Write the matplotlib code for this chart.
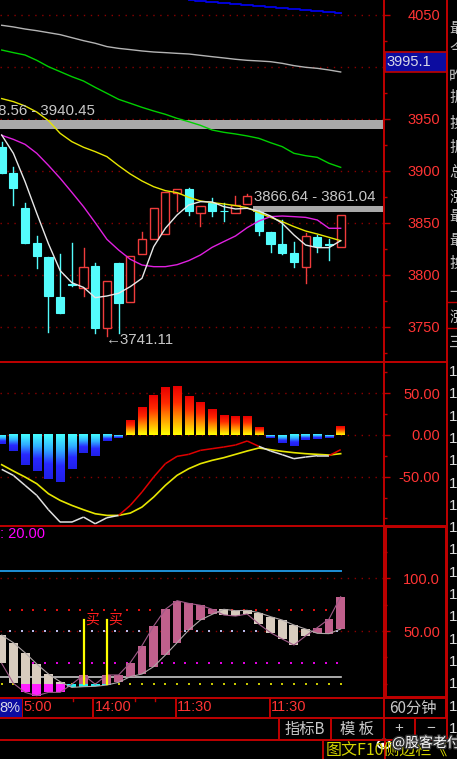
import numpy as np
import matplotlib
matplotlib.use('Agg')
import matplotlib.pyplot as plt
from matplotlib.patches import Rectangle, Ellipse
from matplotlib.collections import LineCollection
from matplotlib.colors import LinearSegmentedColormap
import matplotlib.patheffects as pe

plt.rcParams['font.family'] = ['Liberation Sans', 'DejaVu Sans']
CJK = ['Noto Sans CJK SC', 'DejaVu Sans']

# ---------------- data (60 min bars) ----------------
opens  = [3923.4, 3897.8, 3864.1, 3831.0, 3817.6, 3779.2, 3791.5, 3787.2, 3809.0, 3749.4,
          3811.9, 3774.4, 3819.9, 3834.3, 3839.1, 3879.2, 3882.4, 3859.3, 3868.9, 3861.9,
          3859.3, 3868.0, 3860.3, 3841.7, 3829.5, 3821.5, 3807.4, 3836.9, 3829.6, 3826.6]
closes = [3897.8, 3883.3, 3830.4, 3818.3, 3779.8, 3763.1, 3790.5, 3808.0, 3748.7, 3794.2,
          3773.4, 3818.6, 3834.3, 3864.1, 3879.5, 3883.0, 3861.9, 3866.7, 3861.9, 3861.1,
          3867.3, 3876.3, 3842.3, 3829.5, 3820.8, 3812.8, 3837.5, 3827.9, 3828.6, 3857.7]
highs  = [3928.0, 3904.2, 3869.6, 3837.5, 3817.6, 3820.2, 3831.1, 3825.6, 3811.2, 3794.2,
          3811.9, 3818.6, 3841.7, 3864.1, 3879.5, 3883.0, 3884.0, 3866.7, 3873.7, 3868.9,
          3876.0, 3877.9, 3862.5, 3841.7, 3852.9, 3832.1, 3840.1, 3838.5, 3834.3, 3857.7]
lows   = [3897.8, 3867.3, 3830.4, 3806.4, 3745.5, 3763.1, 3789.4, 3779.8, 3743.9, 3741.11,
          3743.9, 3774.4, 3819.9, 3834.3, 3839.1, 3861.9, 3857.7, 3847.1, 3856.7, 3852.2,
          3859.3, 3868.0, 3838.5, 3821.8, 3820.2, 3808.0, 3792.6, 3821.8, 3814.4, 3826.6]

ma_white = [3934.6, 3917.0, 3889.7, 3859.3, 3830.0, 3804.2, 3792.6, 3788.1, 3778.2, 3779.8,
            3782.4, 3788.8, 3796.8, 3827.2, 3844.9, 3857.7, 3867.3, 3870.5, 3870.2, 3865.7,
            3863.5, 3864.1, 3861.5, 3856.7, 3849.7, 3838.5, 3828.8, 3826.3, 3826.3, 3833.0]
ma_magenta = [3934.3, 3930.4, 3925.6, 3917.0, 3905.4, 3893.0, 3879.5, 3865.7, 3850.3, 3834.3,
              3824.0, 3815.1, 3809.6, 3808.0, 3808.0, 3809.9, 3813.8, 3819.2, 3826.6, 3832.1,
              3837.5, 3845.5, 3851.9, 3856.1, 3856.7, 3856.1, 3855.4, 3852.9, 3844.9, 3844.9]
ma_yellow = [3969.6, 3966.7, 3962.5, 3956.7, 3948.4, 3936.2, 3928.2, 3922.8, 3918.6, 3913.8,
             3905.1, 3897.1, 3890.4, 3884.9, 3881.1, 3879.2, 3874.7, 3871.2, 3869.6, 3868.3,
             3866.7, 3864.7, 3859.9, 3855.4, 3851.3, 3846.5, 3842.3, 3839.4, 3836.2, 3833.0]
ma_green = [4016.3, 4013.8, 4011.5, 4006.4, 4000.3, 3995.5, 3990.7, 3986.5, 3980.4, 3974.7,
            3968.9, 3965.1, 3961.2, 3957.7, 3954.5, 3950.6, 3947.4, 3943.9, 3939.4, 3937.2,
            3935.6, 3933.7, 3931.4, 3927.2, 3923.4, 3917.0, 3914.7, 3913.1, 3907.4, 3903.5]
ma_grey = [4040.1, 4038.5, 4036.5, 4034.9, 4033.0, 4031.1, 4028.2, 4025.3, 4022.8, 4019.6,
           4017.9, 4016.7, 4015.4, 4014.4, 4013.8, 4013.1, 4012.5, 4011.2, 4009.9, 4008.7,
           4007.4, 4006.4, 4005.8, 4005.1, 4003.5, 4001.3, 3999.7, 3998.7, 3997.1, 3995.2]
ma_blue_start = 16
ma_blue = [4064.1, 4063.3, 4062.2, 4061.3, 4060.3, 4059.4, 4058.4, 4057.6, 4056.7, 4055.8,
           4055.0, 4054.2, 4053.3, 4052.2]

zone_hi = (3948.56, 3940.45)      # pressure zone, full width
zone_lo = (3866.64, 3861.04)      # starts at bar 21.5
zone_lo_start = 21.5
low_bar, low_val = 9, 3741.11
last_label = '3995.1'
price_ticks = [3750, 3800, 3850, 3900, 3950, 4000, 4050]
price_tick_labels = ['3750', '3800', '3850', '3900', '3950', '', '4050']  # 4000 hidden by box

macd_hist = [-10.4, -19.2, -36.4, -43.2, -52.8, -56.4, -41.2, -21.6, -25.6, -7.2,
             -3.2, 17.6, 32.4, 47.6, 56.8, 58.4, 46.4, 38.4, 30.8, 23.6,
             21.6, 21.6, 8.4, -3.2, -9.2, -13.6, -6.4, -4.8, -3.2, 10.4]
macd_dif = [-41.2, -48.4, -60.4, -72.4, -89.6, -104.4, -104.4, -98.4, -106.4, -99.2,
            -96.4, -84.4, -68.4, -50.4, -34.4, -25.6, -23.2, -18.4, -16.4, -14.4,
            -12.0, -7.2, -13.6, -19.2, -23.6, -28.4, -26.4, -24.8, -24.8, -17.6]
macd_dea = [-35.6, -43.2, -50.4, -58.4, -70.4, -78.4, -84.4, -89.6, -94.4, -96.4,
            -96.4, -93.6, -86.4, -74.4, -60.4, -48.4, -40.4, -34.4, -30.4, -27.2,
            -23.2, -19.2, -15.6, -17.6, -19.6, -21.2, -22.4, -23.2, -24.0, -22.4]

kd_k = [19.3, 0.35, -8.2, -11.4, -8.2, -8.2, -0.5, 8.3, -0.5, 8.3,
        8.3, 20.0, 36.1, 54.7, 70.6, 78.8, 76.2, 74.4, 70.6, 65.2,
        64.2, 66.1, 56.6, 48.4, 42.4, 36.7, 45.3, 53.2, 61.4, 82.6]
kd_d = [46.2, 38.9, 29.4, 18.7, 9.2, 1.9, -3.5, -2.8, -2.5, -1.2,
        1.3, 6.7, 9.2, 16.2, 27.2, 38.9, 50.9, 60.4, 65.8, 70.6,
        69.3, 69.6, 67.4, 63.6, 60.4, 55.7, 51.9, 47.8, 47.5, 51.9]
kd_upper, kd_lower = 107.0, 6.0
kd_dot_levels = [70, 50, 20, 0]
kd_param = ': 20.00'
buy_bars = [7, 9]
buy_top = 60.4

time_pos = [1.75, 7.85, 14.9, 22.95]
time_labels = ['5:00', '14:00', '11:30', '11:30']

# ---------------- layout ----------------
W, H = 457, 759
XL = (-0.145, 32.62)
RED_AX = '#c00000'
RED_TXT = '#ff3434'
GRID = '#8a0000'
CYAN = '#54fcfc'
CRED = '#f03c3c'

fig = plt.figure(figsize=(W / 100, H / 100), dpi=100, facecolor='black')


def make_panel(top, bottom, ylim, major, labels, minor):
    ax = fig.add_axes([0, 1 - bottom / H, 383 / W, (bottom - top) / H])
    ax.set_facecolor('black')
    ax.set_xlim(*XL)
    ax.set_ylim(*ylim)
    for s in ax.spines.values():
        s.set_visible(False)
    ax.set_xticks([])
    ax.yaxis.tick_right()
    ax.set_yticks(major, labels)
    ax.set_yticks(minor, minor=True)
    ax.tick_params(axis='y', which='both', colors=RED_AX, labelcolor=RED_TXT,
                   labelsize=10.5, length=5, width=1, pad=36, direction='out')
    ax.tick_params(axis='y', which='minor', length=3)
    plt.setp(ax.get_yticklabels(), ha='right')
    ax.grid(True, axis='y', which='major', color=GRID, ls=(0, (1, 4)), lw=1)
    return ax


idx = np.arange(len(opens))

# ---- price panel ----
axp = make_panel(0, 361, (3717.3, 4064.4), price_ticks, price_tick_labels,
                 np.arange(3725, 4051, 25))

axp.axhspan(zone_hi[1], zone_hi[0], color='#a8a8a8', lw=0, zorder=1.6)
axp.axhspan(zone_lo[1], zone_lo[0], xmin=(zone_lo_start - XL[0]) / (XL[1] - XL[0]),
            color='#a8a8a8', lw=0, zorder=1.6)

bw = 0.7
for i in idx:
    o, c, h, l = opens[i], closes[i], highs[i], lows[i]
    if c > o:
        axp.plot([i, i], [c, h], color=CRED, lw=1, zorder=3)
        axp.plot([i, i], [l, o], color=CRED, lw=1, zorder=3)
        axp.add_patch(Rectangle((i - bw / 2, o), bw, c - o, facecolor='black',
                                edgecolor=CRED, lw=1, zorder=3))
    else:
        axp.plot([i, i], [l, h], color=CYAN, lw=1, zorder=3)
        axp.add_patch(Rectangle((i - bw / 2, c), bw, o - c, facecolor=CYAN,
                                edgecolor=CYAN, lw=0.8, zorder=3))

axp.plot(idx, ma_grey, color='#b4b4b4', lw=1, zorder=4)
axp.plot(idx, ma_green, color='#00d000', lw=1, zorder=4)
axp.plot(idx, ma_yellow, color='#e6e600', lw=1, zorder=4)
axp.plot(idx, ma_magenta, color='#e020e0', lw=1, zorder=4)
axp.plot(idx, ma_white, color='#e8e8e8', lw=1, zorder=4)
axp.plot(np.arange(ma_blue_start, ma_blue_start + len(ma_blue)), ma_blue,
         color='#0000e6', lw=1.3, zorder=4, drawstyle='steps-mid')

axp.annotate(f'{zone_hi[0]:.2f} - {zone_hi[1]:.2f}', xy=(8.0, zone_hi[0]), xytext=(0, 6.8),
             textcoords='offset points', ha='right', va='center', color='#c8c8c8',
             fontsize=10.8, zorder=6)
axp.annotate(f'{zone_lo[0]:.2f} - {zone_lo[1]:.2f}', xy=(21.6, zone_lo[0]), xytext=(0, 6.5),
             textcoords='offset points', ha='left', va='center', color='#c8c8c8',
             fontsize=10.8, zorder=6)
axp.annotate('\u2190' + f'{low_val:.2f}', xy=(low_bar, low_val), xytext=(-1, -2.6),
             textcoords='offset points', ha='left', va='center', color='#c8c8c8',
             fontsize=10.8, zorder=6)

# ---- MACD panel ----
axm = make_panel(361, 525, (-107.9, 88.7), [-50, 0, 50], ['-50.00', '0.00', '50.00'],
                 [-100, -75, -25, 25, 75])
pos_cmap = LinearSegmentedColormap.from_list('pos', ['#ffff00', '#ff9a00', '#ff2a00', '#e80000'])
neg_cmap = LinearSegmentedColormap.from_list('neg', ['#44ffff', '#30b0ff', '#2828ff', '#2020e8'])
grad = np.linspace(0, 1, 64).reshape(-1, 1)
hw = 0.36
for i, v in enumerate(macd_hist):
    if v >= 0:
        axm.imshow(grad, cmap=pos_cmap, origin='lower', extent=(i - hw, i + hw, 0, v),
                   aspect='auto', interpolation='bilinear', zorder=2)
    else:
        axm.imshow(grad[::-1], cmap=neg_cmap, origin='lower', extent=(i - hw, i + hw, v, 0),
                   aspect='auto', interpolation='bilinear', zorder=2)
axm.set_xlim(*XL)
axm.set_ylim(-107.9, 88.7)
axm.plot(idx, macd_dea, color='#e6e600', lw=1.2, zorder=4)
segs = [[(i, macd_dif[i]), (i + 1, macd_dif[i + 1])] for i in range(len(idx) - 1)]
cols = ['#e00000' if macd_hist[i + 1] > 0 else '#e0e0e0' for i in range(len(idx) - 1)]
axm.add_collection(LineCollection(segs, colors=cols, lw=1.1, zorder=5))

# ---- KD panel ----
axk = make_panel(526, 697, (-12.6, 149.6), [50, 100], ['50.00', '100.0'], [0, 25, 75, 125])
axk.plot([XL[0], idx[-1]], [kd_upper, kd_upper], color='#1e8fd6', lw=1.4, zorder=2)
axk.plot([XL[0], idx[-1]], [kd_lower, kd_lower], color='#c8c8c8', lw=1.2, zorder=2)
dot_cols = ['#e01010', '#b8b8e8', '#e000e0', '#c8c800']
for lev, dc in zip(kd_dot_levels, dot_cols):
    xs = idx[:-1] + 0.72 if lev != 0 else idx
    axk.scatter(xs, [lev] * len(xs), s=2.5, color=dc, marker='s', lw=0, zorder=2.5)

kw = 0.76
for i in idx:
    k, d = kd_k[i], kd_d[i]
    top, bot = max(k, d), min(k, d)
    up = k > d
    hi_col = '#c0608c' if up else '#d8ccbe'
    lo_col = '#20f0f0' if up else '#ff20ff'
    if top > 0:
        b = max(bot, 0)
        axk.add_patch(Rectangle((i - kw / 2, b), kw, top - b, facecolor=hi_col,
                                edgecolor='none', zorder=3))
    if bot < 0:
        t = min(top, 0)
        axk.add_patch(Rectangle((i - kw / 2, bot), kw, t - bot, facecolor=lo_col,
                                edgecolor='none', zorder=3))
axk.plot(idx, kd_k, color='#a05a88', lw=0.8, zorder=3.5)
axk.plot(idx, kd_d, color='#b0a8a8', lw=0.8, zorder=3.5)
for b in buy_bars:
    axk.plot([b, b], [0, buy_top], color='#ffff00', lw=1.6, zorder=4)
    axk.annotate('买', xy=(b, buy_top), xytext=(1, 0), textcoords='offset points',
                 ha='left', va='center', color='#ff2020', fontsize=10, family=CJK, zorder=5)
axk.text(0, 0.955, kd_param, transform=axk.transAxes, ha='left', va='center',
         color='#ff00ff', fontsize=10.5, zorder=5)

# ---- time bar ----
axt = fig.add_axes([0, 1 - 717 / H, 383 / W, 20 / H])
axt.set_xlim(*XL)
axt.set_ylim(0, 1)
axt.axis('off')
for p, lab in zip(time_pos, time_labels):
    axt.axvline(p, color=RED_AX, lw=1.4)
    axt.annotate(lab, xy=(p, 0.5), xytext=(1, 0), textcoords='offset points',
                 ha='left', va='center', color=RED_TXT, fontsize=10.5)
for p in [6.1, 11.4, 13.1]:
    axt.plot([p, p], [1, 0.82], color=RED_AX, lw=1)

# ---- overlay: frames, side strip, buttons ----
ov = fig.add_axes([0, 0, 1, 1], zorder=10)
ov.set_xlim(0, W)
ov.set_ylim(H, 0)
ov.axis('off')
ov.patch.set_visible(False)


def hline(y, x0, x1, lw=1.4):
    ov.plot([x0, x1], [y, y], color=RED_AX, lw=lw, solid_capstyle='butt')


def vline(x, y0, y1, lw=1.4):
    ov.plot([x, x], [y0, y1], color=RED_AX, lw=lw, solid_capstyle='butt')


for y in [361.5, 525.5, 697.5, 717.5]:
    hline(y, 0, 447)
hline(739.5, 0, W)
vline(383.5, 0, 739.5)
vline(447, 0, 739.5)
vline(446, 697.5, 717.5)
ov.add_patch(Rectangle((385.5, 527), 60.5, 169.5, fill=False, edgecolor=RED_AX, lw=1.4))
for x in [279, 330.5, 415]:
    vline(x, 717.5, 739.5)
vline(323, 739.5, H)
vline(385, 739.5, H)
hline(302, 447, W, lw=1)
hline(328, 447, W, lw=1)

# last price box
ov.add_patch(Rectangle((384.5, 52), 62, 20, facecolor='#0c0ca0', edgecolor=RED_AX, lw=1.2))
ov.text(386, 62.5, last_label, ha='left', va='center', color='#d8d8e8', fontsize=10.5)

# percent box in time bar
ov.add_patch(Rectangle((0, 698.5), 22, 18, facecolor='#0c0ca0', edgecolor='none'))
ov.text(20.5, 708, '8%', ha='right', va='center', color='#d8d8e8', fontsize=10.5)

ov.text(413, 708, '60分钟', ha='center', va='center', color='#c8c8c8', fontsize=11, family=CJK)
ov.text(305, 729, '指标B', ha='center', va='center', color='#c8c8c8', fontsize=11, family=CJK)
ov.text(357, 729, '模 板', ha='center', va='center', color='#c8c8c8', fontsize=11, family=CJK)
ov.text(399, 728, '+', ha='center', va='center', color='#c8c8c8', fontsize=11)
ov.text(431, 728, '\u2212', ha='center', va='center', color='#c8c8c8', fontsize=11)
ov.text(326, 751, '图文F10侧边栏《', ha='left', va='center', color='#d4d400', fontsize=11.5,
        family=CJK)

# right strip (cut off)
strip_chars = ['最', '今', '昨', '振', '换', '振', '总', '涨', '最', '最', '换', '一', '涨', '三']
strip_y = [28, 50, 77, 97, 123, 147, 172, 197, 217, 240, 263, 293, 317, 342]
for ch, y in zip(strip_chars, strip_y):
    ov.text(449, y, ch, ha='left', va='center', color='#c0c0c0', fontsize=11, family=CJK)
for y in np.arange(372, 735, 22.3):
    ov.text(449, y, '1', ha='left', va='center', color='#e0e0e0', fontsize=11)

# weibo watermark
ov.add_patch(Ellipse((384, 744), 13, 9, fill=False, edgecolor='white', lw=1.2))
ov.add_patch(Ellipse((383, 745), 4, 3, fill=True, color='white'))
ov.text(392, 743, '@股客老付', ha='left', va='center', color='white', fontsize=10,
        family=CJK, path_effects=[pe.withStroke(linewidth=2, foreground='#303030')])

fig.savefig('out.png', dpi=100, facecolor='black')
